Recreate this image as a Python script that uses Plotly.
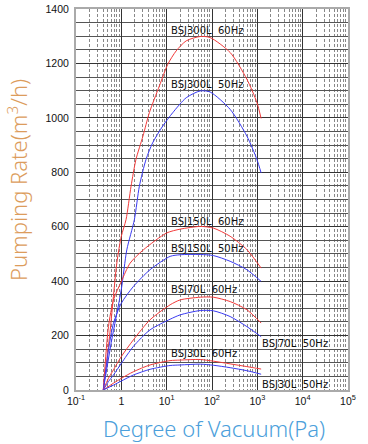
import plotly.graph_objects as go
import math

# Pressure (Pa) and pumping rate (m3/h)
x_300_60 = [0.40, 0.56, 0.8, 1.0, 1.27, 1.64, 2.1, 3.0, 4.15, 6.9, 10.6, 16.2, 27, 55, 91, 252, 588, 980, 1210]
y_300_60 = [0, 210, 470, 565, 626, 749, 847, 933, 1019, 1117, 1197, 1246, 1283, 1299, 1295, 1240, 1142, 1056, 998]

x_300_50 = [0.40, 0.6, 1.0, 1.32, 1.94, 2.5, 3.5, 4.9, 8.2, 13.6, 27, 55, 91, 252, 588, 980, 1210]
y_300_50 = [0, 175, 370, 515, 626, 749, 847, 908, 970, 1019, 1074, 1099, 1095, 1031, 933, 847, 798]

x_150_60 = [0.40, 0.52, 0.67, 1.0, 1.56, 3.06, 10, 19.8, 55, 107, 251, 587, 1213]
y_150_60 = [0, 233, 331, 399, 466, 515, 577, 591, 601, 595, 565, 516, 448]

x_150_50 = [0.40, 0.52, 0.67, 1.0, 1.84, 4.3, 11.9, 19.8, 55, 107, 251, 587, 1213]
y_150_50 = [0, 147, 245, 319, 380, 442, 491, 497, 498, 494, 473, 442, 399]

x_70_60 = [0.40, 0.52, 0.67, 1.0, 1.84, 4.3, 11.9, 19.8, 55, 107, 251, 587, 1213]
y_70_60 = [0, 43, 74, 123, 184, 258, 313, 331, 341, 341, 325, 295, 246]

x_70_50 = [0.40, 0.52, 0.67, 1.0, 1.84, 4.3, 11.9, 19.8, 55, 107, 251, 587, 1213]
y_70_50 = [0, 31, 55, 98, 160, 221, 260, 276, 292, 291, 270, 233, 196]

x_30_60 = [0.40, 0.67, 1.0, 1.84, 4.3, 11.9, 19.8, 55, 107, 251, 587, 1213]
y_30_60 = [0, 25, 43, 67, 92, 108, 110, 112, 106, 96, 86, 77]

x_30_50 = [0.40, 0.67, 1.0, 1.84, 4.3, 11.9, 19.8, 55, 107, 251, 587, 1213]
y_30_50 = [0, 18, 33, 55, 76, 90, 92, 95, 91, 82, 71, 58]

series = [
    (x_300_60, y_300_60, "red"), (x_300_50, y_300_50, "blue"),
    (x_150_60, y_150_60, "red"), (x_150_50, y_150_50, "blue"),
    (x_70_60, y_70_60, "red"), (x_70_50, y_70_50, "blue"),
    (x_30_60, y_30_60, "red"), (x_30_50, y_30_50, "blue"),
]
colors = {"red": "#f23a3a", "blue": "#3a3af2"}

# Curve labels: (text, pressure Pa at left edge, rate)
label_text = ["BSJ300L  60Hz", "BSJ300L  50Hz", "BSJ150L  60Hz", "BSJ150L  50Hz",
              "BSJ70L  60Hz", "BSJ70L  50Hz", "BSJ30L  60Hz", "BSJ30L  50Hz"]
label_x = [11.3, 11.3, 11.3, 11.3, 11.3, 1150, 11.3, 1150]
label_y = [1322, 1123, 620, 519, 371, 171, 135, 20]

x_tickvals = [0.1, 1, 10, 100, 1000, 10000, 100000]
x_ticktext = ["10<sup>-1</sup>", "1", "10<sup>1</sup>", "10<sup>2</sup>",
              "10<sup>3</sup>", "10<sup>4</sup>", "10<sup>5</sup>"]
y_tickvals = [0, 200, 400, 600, 800, 1000, 1200, 1400]

fig = go.Figure()
for xs, ys, c in series:
    fig.add_trace(go.Scatter(x=xs, y=ys, mode="lines",
                             line=dict(color=colors[c], width=1, shape="spline", smoothing=0.7),
                             hoverinfo="skip", showlegend=False))

for t, lx, ly in zip(label_text, label_x, label_y):
    fig.add_annotation(x=math.log10(lx), y=ly, text=t, showarrow=False,
                       xanchor="left", yanchor="middle", xref="x", yref="y",
                       font=dict(family="DejaVu Sans", size=10, color="#111"))

fig.add_annotation(x=-0.215, y=0.55, xref="paper", yref="paper", text="Pumping Rate(m<sup>3</sup>/h)",
                   textangle=-90, showarrow=False, xanchor="center", yanchor="middle",
                   font=dict(family="Noto Sans", size=22, color="#dc9c5c", weight=300))
fig.add_annotation(x=0.507, y=-0.10, xref="paper", yref="paper", text="Degree of Vacuum(Pa)",
                   showarrow=False, xanchor="center", yanchor="middle",
                   font=dict(family="Noto Sans", size=22, color="#4c9fdb", weight=300))

fig.update_layout(
    width=368, height=444,
    margin=dict(l=76, r=20, t=9, b=54, autoexpand=False),
    paper_bgcolor="white", plot_bgcolor="white",
    xaxis=dict(type="log", range=[-1, 5], tickvals=x_tickvals, ticktext=x_ticktext,
               automargin=False,
               showgrid=True, gridcolor="#333", gridwidth=1,
               minor=dict(dtick="D1", showgrid=True, gridcolor="#888", griddash="3px,2px", gridwidth=1),
               showline=True, linecolor="#aaa", linewidth=2, mirror=True, ticks="",
               tickfont=dict(family="Liberation Sans", size=10.5, color="#111")),
    yaxis=dict(range=[0, 1400], tickvals=y_tickvals, automargin=False,
               showgrid=True, gridcolor="#333", gridwidth=1,
               minor=dict(dtick=50, showgrid=True, gridcolor="#555", gridwidth=1),
               showline=True, linecolor="#aaa", linewidth=2, mirror=True, ticks="",
               zeroline=False, ticklabelstandoff=3,
               tickfont=dict(family="Liberation Sans", size=10.5, color="#111")),
)
fig.write_html("out.html", config={"displayModeBar": False},
               post_script="document.body.style.margin='0';document.body.style.padding='0';")
